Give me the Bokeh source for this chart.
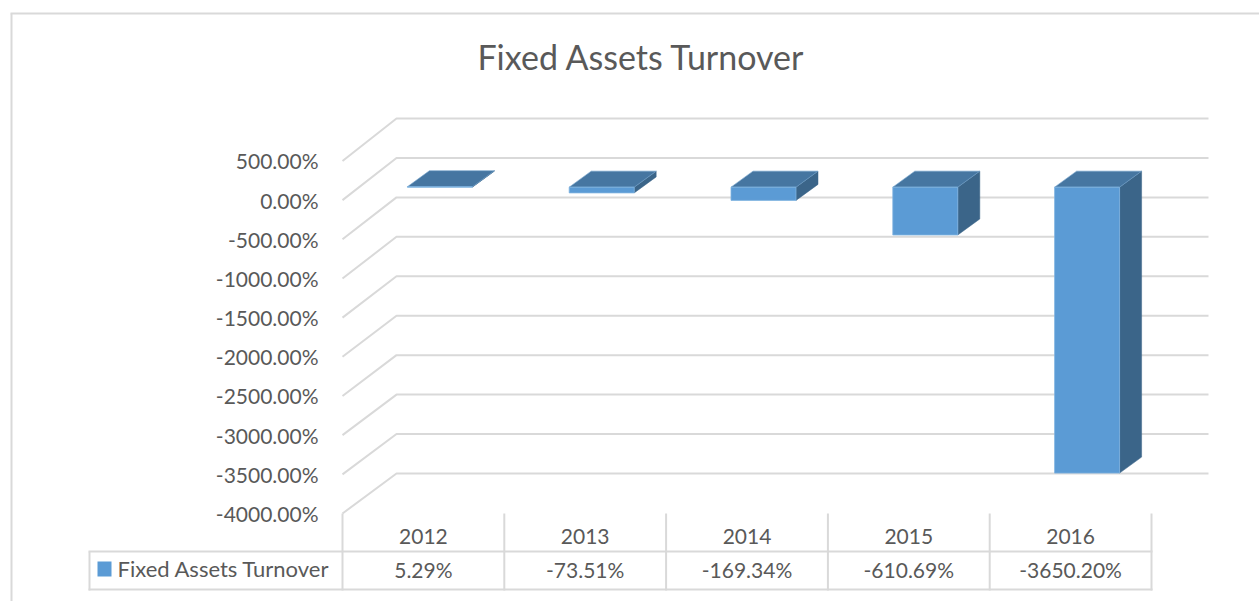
from bokeh.core.properties import value
from bokeh.embed import file_html
from bokeh.resources import INLINE
from bokeh.plotting import figure
from bokeh.models import Range1d, LinearAxis, FixedTicker

# ---- data ----
TITLE = "Fixed Assets Turnover"
categories = ["2012", "2013", "2014", "2015", "2016"]
values = [5.29, -73.51, -169.34, -610.69, -3650.20]
tick_values = [500, 0, -500, -1000, -1500, -2000, -2500, -3000, -3500, -4000]
tick_labels = ["500.00%", "0.00%", "-500.00%", "-1000.00%", "-1500.00%", "-2000.00%",
               "-2500.00%", "-3000.00%", "-3500.00%", "-4000.00%"]

# ---- layout (page pixels) ----
W, H = 1259, 601
CELL = 161.8                             # category width in px
PX0 = 342                                # left of the front plane
PY_M = 513                               # -4000 on the front plane
SCALE = 39.17 / 500                      # px per value unit, front plane
GREY, TXT = "#d9d9d9", "#595959"
FONT = "Lato"


def X(px):
    return (px - PX0) / CELL - 0.5


def Y(py):
    return -4000 + (PY_M - py) / SCALE


def vpy(v):
    return PY_M - (v + 4000) * SCALE


p = figure(width=W, height=H, output_backend="svg", toolbar_location=None,
           x_range=Range1d(X(0), X(W)), y_range=Range1d(Y(H), Y(0)),
           x_axis_type=None, y_axis_type=None,
           min_border_left=0, min_border_right=0, min_border_top=0, min_border_bottom=0)
p.outline_line_color = None
p.grid.visible = False
p.background_fill_color = "white"
p.border_fill_color = "white"

# ---- axes ----
yax = LinearAxis(ticker=FixedTicker(ticks=tick_values),
                 major_label_overrides=dict(zip(tick_values, tick_labels)))
xax = LinearAxis(ticker=FixedTicker(ticks=list(range(len(categories)))),
                 major_label_overrides=dict(enumerate(categories)))
for ax in (yax, xax):
    ax.axis_line_color = None
    ax.major_tick_line_color = None
    ax.minor_tick_line_color = None
    ax.major_label_text_font = FONT
    ax.major_label_text_font_size = "21px"
    ax.major_label_text_color = TXT
yax.major_label_standoff = -324
xax.major_label_standoff = -(H - 522)
p.add_layout(yax, "left")
p.add_layout(xax, "below")

# ---- walls: back gridlines with their diagonal floor lines ----
BX = 396
back_py = [118 + (500 - v) * 39.44 / 500 for v in tick_values]
for v, by in zip(tick_values, back_py):
    p.line([X(PX0), X(BX), X(1208)], [v, Y(by), Y(by)],
           line_color=GREY, line_width=2)

# ---- 3-D bars ----
OFF_X, OFF_Y = 16.5, 13       # front plane of the bars
DX, DY = 22, 16               # depth of the bars
HALF = 32.5
for i, v in enumerate(values):
    cx = PX0 + (i + 0.5) * CELL + OFF_X
    l, r = cx - HALF, cx + HALF
    ytop = vpy(max(v, 0)) - OFF_Y
    ybot = vpy(min(v, 0)) - OFF_Y
    p.patch([X(r), X(r + DX), X(r + DX), X(r)],
            [Y(ytop), Y(ytop - DY), Y(ybot - DY), Y(ybot)],
            fill_color="#3b6589", line_color="#3b6589", line_width=0.5)
    p.patch([X(l), X(l + DX), X(r + DX), X(r)],
            [Y(ytop), Y(ytop - DY), Y(ytop - DY), Y(ytop)],
            fill_color="#4676a1", line_color="#6f9fc9", line_width=0.6)
    p.patch([X(l), X(r), X(r), X(l)],
            [Y(ytop), Y(ytop), Y(ybot), Y(ybot)],
            fill_color="#5b9bd5", line_color="#7fb2e0", line_width=0.8)


def hline(x0, x1, py):
    p.line([X(x0), X(x1)], [Y(py), Y(py)], line_color=GREY, line_width=2)


def vline(px, y0, y1):
    p.line([X(px), X(px)], [Y(y0), Y(y1)], line_color=GREY, line_width=2)


def text(px, py, s, align, size):
    p.text([X(px)], [Y(py)], text=[s], text_font=value(FONT), text_font_size=size,
           text_color=TXT, text_align=align, text_baseline="middle")


# ---- title ----
text(641, 56, TITLE, "center", "34px")

# ---- outer border of the chart area ----
hline(10, W, 13)
vline(11, 13, H)

# ---- data table ----
hline(88, 1152, 551)
hline(88, 1152, 589)
vline(89, 551, 590)
for k in range(len(categories) + 1):
    vline(PX0 + k * CELL, 513, 590)

p.patch([X(97), X(111), X(111), X(97)], [Y(561), Y(561), Y(576), Y(576)],
        fill_color="#5b9bd5", line_color=None)
text(117, 568, TITLE, "left", "22px")
for i, v in enumerate(values):
    text(PX0 + (i + 0.5) * CELL, 569, f"{v:.2f}%", "center", "21px")

open("out.html", "w").write(file_html(p, INLINE))
